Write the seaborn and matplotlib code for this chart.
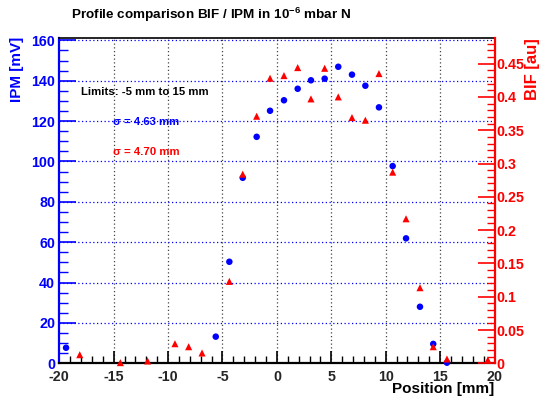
import matplotlib
matplotlib.use("Agg")
import matplotlib.pyplot as plt
from matplotlib.ticker import MultipleLocator
import seaborn as sns
import pandas as pd

# ---- data ----
ipm_pos = [-19.38, -5.62, -4.37, -3.14, -1.86, -0.63, 0.65, 1.91, 3.13, 4.39,
           5.64, 6.90, 8.13, 9.38, 10.64, 11.87, 13.15, 14.37, 15.63]
ipm_mv = [7.7, 13.2, 50.3, 91.9, 112.2, 125.1, 130.3, 136.0, 140.2, 141.0,
          146.9, 143.0, 137.5, 126.8, 97.7, 61.9, 28.0, 9.6, 0.3]

bif_pos = [-18.12, -14.39, -11.88, -9.37, -8.11, -6.88, -4.37, -3.14, -1.86, -0.63,
           0.65, 1.91, 3.13, 4.39, 5.64, 6.90, 8.13, 9.38, 10.64, 11.87,
           13.15, 14.37, 15.63, 19.39]
bif_au = [0.0129, 0.001, 0.0035, 0.0294, 0.0249, 0.0155, 0.123, 0.284, 0.371, 0.428,
          0.432, 0.444, 0.397, 0.443, 0.400, 0.369, 0.365, 0.435, 0.287, 0.217,
          0.1135, 0.0249, 0.0065, 0.005]

title_text = "Profile comparison BIF / IPM in 10$^{-6}$ mbar N"
limits_text = "Limits: -5 mm to 15 mm"
sigma_ipm = "\u03c3 = 4.63 mm"
sigma_bif = "\u03c3 = 4.70 mm"

ipm_df = pd.DataFrame({"pos": ipm_pos, "val": ipm_mv})
bif_df = pd.DataFrame({"pos": bif_pos, "val": bif_au})

sns.set_style("white")
plt.rcParams["font.family"] = ["Liberation Sans", "DejaVu Sans"]
plt.rcParams["mathtext.fontset"] = "custom"
plt.rcParams["mathtext.rm"] = "Liberation Sans:bold"
plt.rcParams["mathtext.default"] = "rm"

BLUE = "#0000ff"
RED = "#ff0000"

fig = plt.figure(figsize=(5.42, 4.03), dpi=100)
ax = fig.add_axes([59.3 / 542, 1 - 363.3 / 403, (494.5 - 59.3) / 542, (363.3 - 38.3) / 403])
ax2 = ax.twinx()

sns.scatterplot(data=ipm_df, x="pos", y="val", ax=ax, color=BLUE, marker="o",
                s=22, edgecolor="none", clip_on=False, zorder=5, legend=False)
sns.scatterplot(data=bif_df, x="pos", y="val", ax=ax2, color=RED, marker="^",
                s=26, edgecolor="none", clip_on=False, zorder=5, legend=False)

ax.set_xlim(-20, 20)
ax.set_ylim(0, 161)
ax2.set_ylim(0, 0.488)

# grid
for xv in [-15, -10, -5, 0, 5, 10, 15]:
    ax.axvline(xv, color="#444444", linestyle=(0, (1, 2)), linewidth=0.9, zorder=0)
for yv in [20, 40, 60, 80, 100, 120, 140, 160]:
    ax.axhline(yv, color=BLUE, linestyle=(0, (1, 2)), linewidth=0.9, zorder=0)

# ticks
ax.xaxis.set_major_locator(MultipleLocator(5))
ax.xaxis.set_minor_locator(MultipleLocator(1))
ax.yaxis.set_major_locator(MultipleLocator(20))
ax.yaxis.set_minor_locator(MultipleLocator(5))
ax2.yaxis.set_major_locator(MultipleLocator(0.05))
ax2.yaxis.set_minor_locator(MultipleLocator(0.01))

ax.tick_params(axis="x", which="major", direction="in", length=9, width=1.2,
               color="black", labelsize=10.3, pad=4.5, top=False, bottom=True)
ax.tick_params(axis="x", which="minor", direction="in", length=5, width=1.0,
               color="black", top=False, bottom=True)
ax.tick_params(axis="y", which="major", direction="in", length=12, width=1.2,
               color=BLUE, labelcolor=BLUE, labelsize=10.3, pad=3, left=True, right=False)
ax.tick_params(axis="y", which="minor", direction="in", length=6.5, width=1.0,
               color=BLUE, left=True, right=False)
ax2.tick_params(axis="y", which="major", direction="in", length=12, width=1.2,
                color=RED, labelcolor=RED, labelsize=10.3, pad=1.5, right=True, left=False)
ax2.tick_params(axis="y", which="minor", direction="in", length=6, width=1.0,
                color=RED, right=True, left=False)

for lab in ax.get_xticklabels() + ax.get_yticklabels() + ax2.get_yticklabels():
    lab.set_fontweight("bold")

ax.yaxis.set_major_formatter(plt.FuncFormatter(lambda v, p: f"{v:g}"))
ax2.yaxis.set_major_formatter(plt.FuncFormatter(lambda v, p: f"{v:g}"))
ax.xaxis.set_major_formatter(plt.FuncFormatter(lambda v, p: f"{v:g}".replace("\u2212", "-")))

# spines
for sp in ["left", "right", "top", "bottom"]:
    ax.spines[sp].set_visible(True)
    ax2.spines[sp].set_visible(True)
ax.spines["left"].set_color(BLUE)
ax.spines["left"].set_linewidth(1.6)
ax.spines["bottom"].set_color("black")
ax.spines["bottom"].set_linewidth(1.6)
ax.spines["top"].set_color("black")
ax.spines["top"].set_linewidth(1.2)
ax.spines["right"].set_visible(False)
ax2.spines["right"].set_color(RED)
ax2.spines["right"].set_linewidth(1.6)
ax2.spines["left"].set_visible(False)
ax2.spines["top"].set_visible(False)
ax2.spines["bottom"].set_visible(False)

ax.set_xlabel("")
ax.set_ylabel("")
ax2.set_ylabel("")

# axis titles
fig.text(16.5 / 542, 1 - 37 / 403, "IPM [mV]", color=BLUE, fontsize=11, fontweight="bold",
         rotation=90, ha="center", va="top")
fig.text(533 / 542, 1 - 38 / 403, "BIF [au]", color=RED, fontsize=12, fontweight="bold",
         rotation=90, ha="center", va="top")
fig.text(494.5 / 542, 1 - 389 / 403, "Position [mm]", color="black", fontsize=11,
         fontweight="bold", ha="right", va="center")
fig.text(71 / 542, 1 - 19.3 / 403, title_text, color="black", fontsize=9.7,
         fontweight="bold", ha="left", va="baseline")

# annotations
ax.text(0.0499, 0.834, limits_text, transform=ax.transAxes, fontsize=8.2,
        fontweight="bold", color="black", ha="left", va="center")
ax.text(0.124, 0.742, sigma_ipm, transform=ax.transAxes, fontsize=8.2,
        fontweight="bold", color=BLUE, ha="left", va="center")
ax.text(0.124, 0.649, sigma_bif, transform=ax.transAxes, fontsize=8.2,
        fontweight="bold", color=RED, ha="left", va="center")

fig.savefig("out.png", dpi=100)
